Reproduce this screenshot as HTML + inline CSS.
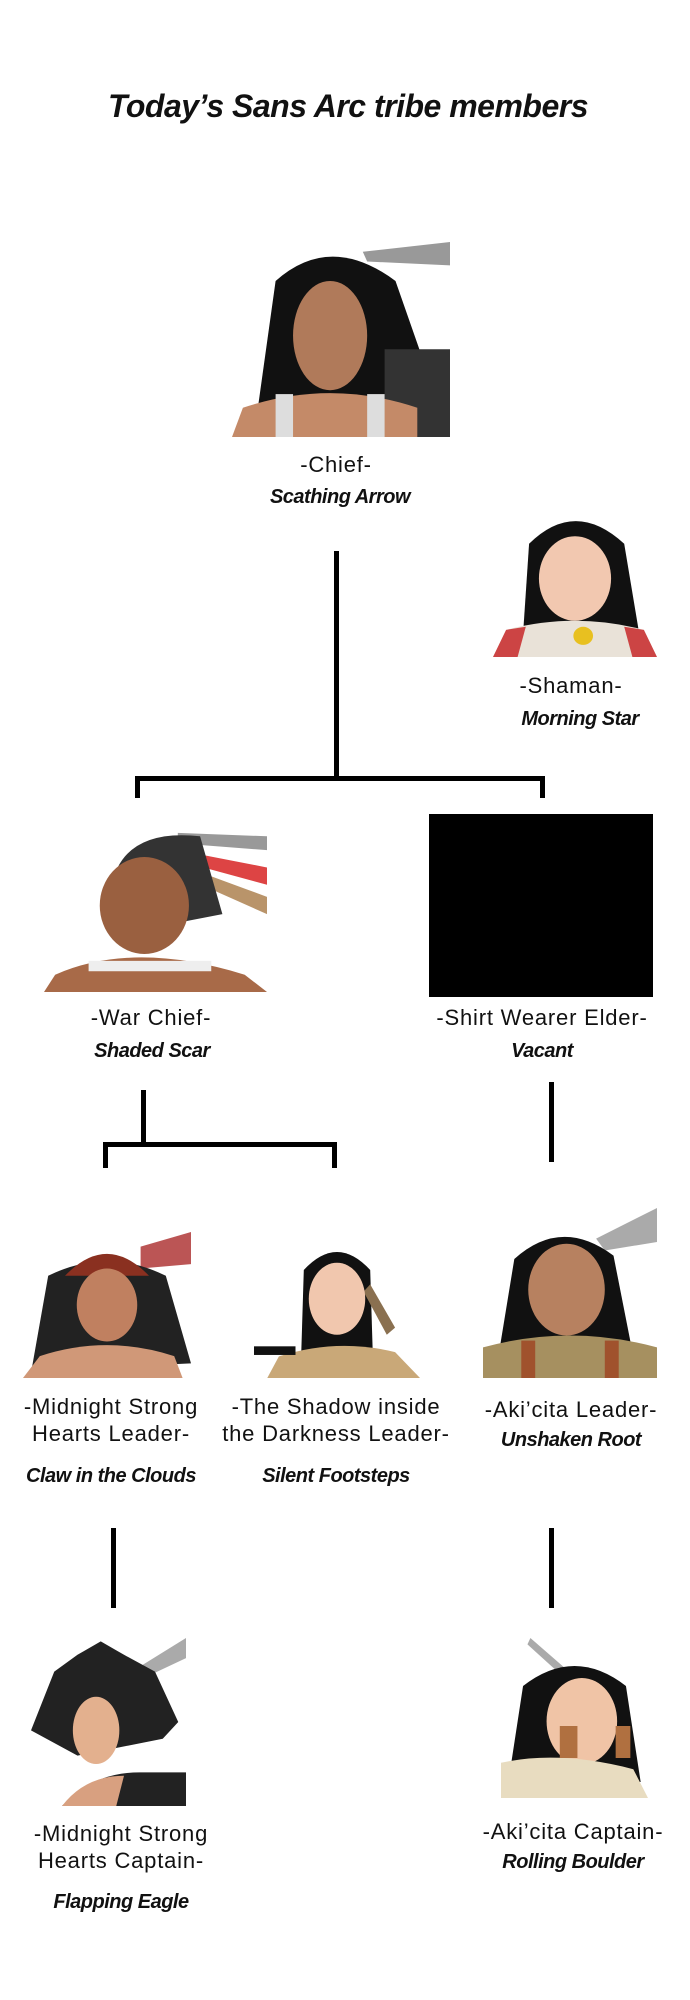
<!DOCTYPE html>
<html><head><meta charset="utf-8"><style>
body{margin:0;background:#fff;}
#c{position:relative;width:690px;height:2000px;background:#fff;overflow:hidden;font-family:"Liberation Sans",sans-serif;}
.t{position:absolute;transform:translateX(-50%);white-space:nowrap;text-align:center;color:#111;}
.r{font-size:22px;letter-spacing:0.8px;line-height:33px;}
.n{font-size:20px;font-style:italic;font-weight:bold;letter-spacing:-0.5px;}
.l{position:absolute;background:#000;}
svg{position:absolute;}
</style></head><body><div id="c">
<div class="t" style="left:348px;top:88px;font-size:32px;font-weight:bold;font-style:italic;letter-spacing:-0.5px;">Today’s Sans Arc tribe members</div>

<svg style="left:232px;top:242px" width="218" height="195" viewBox="0 0 100 100" preserveAspectRatio="none">
<polygon points="60,5 100,0 100,12 62,10" fill="#999"/>
<path d="M10,100 L20,20 Q45,-5 75,20 L100,100 Z" fill="#111"/>
<rect x="70" y="55" width="30" height="45" fill="#333"/>
<ellipse cx="45" cy="48" rx="17" ry="28" fill="#b07a5a"/>
<path d="M0,100 L5,85 Q45,70 85,85 L85,100 Z" fill="#c48a68"/>
<rect x="20" y="78" width="8" height="22" fill="#ddd"/><rect x="62" y="78" width="8" height="22" fill="#ddd"/>
</svg>
<div class="t r" style="left:336px;top:448px">-Chief-</div>
<div class="t n" style="left:340px;top:486px">Scathing Arrow</div>

<svg style="left:493px;top:506px" width="164" height="151" viewBox="0 0 100 100" preserveAspectRatio="none">
<path d="M18,90 L22,25 Q50,-5 80,25 L90,90 Z" fill="#111"/>
<ellipse cx="50" cy="48" rx="22" ry="28" fill="#f2c8b0"/>
<path d="M0,100 L8,82 Q50,70 92,82 L100,100 Z" fill="#e9e2d8"/>
<path d="M0,100 L8,82 L20,80 L15,100Z" fill="#c44"/><path d="M100,100 L92,82 L80,80 L85,100Z" fill="#c44"/>
<circle cx="55" cy="86" r="6" fill="#e8c020"/>
</svg>
<div class="t r" style="left:571px;top:669px">-Shaman-</div>
<div class="t n" style="left:580px;top:708px">Morning Star</div>

<div class="l" style="left:334px;top:551px;width:5px;height:230px"></div>
<div class="l" style="left:135px;top:776px;width:410px;height:5px"></div>
<div class="l" style="left:135px;top:776px;width:5px;height:22px"></div>
<div class="l" style="left:540px;top:776px;width:5px;height:22px"></div>

<svg style="left:44px;top:819px" width="223" height="173" viewBox="0 0 100 100" preserveAspectRatio="none">
<polygon points="60,8 100,10 100,18 60,14" fill="#999"/><polygon points="60,18 100,28 100,38 60,24" fill="#d44"/><polygon points="60,26 100,45 100,55 60,32" fill="#b9946a"/>
<path d="M30,40 Q35,5 70,10 L80,55 L60,60 Z" fill="#333"/>
<ellipse cx="45" cy="50" rx="20" ry="28" fill="#9a6040"/>
<path d="M0,100 L5,90 Q40,70 90,90 L100,100 Z" fill="#a86a48"/>
<rect x="20" y="82" width="55" height="6" fill="#eee"/>
</svg>
<div class="t r" style="left:151px;top:1001px">-War Chief-</div>
<div class="t n" style="left:152px;top:1040px">Shaded Scar</div>

<div class="l" style="left:429px;top:814px;width:224px;height:183px"></div>
<div class="t r" style="left:542px;top:1001px">-Shirt Wearer Elder-</div>
<div class="t n" style="left:542px;top:1040px">Vacant</div>

<div class="l" style="left:141px;top:1090px;width:5px;height:56px"></div>
<div class="l" style="left:103px;top:1142px;width:234px;height:5px"></div>
<div class="l" style="left:103px;top:1142px;width:5px;height:26px"></div>
<div class="l" style="left:332px;top:1142px;width:5px;height:26px"></div>
<div class="l" style="left:549px;top:1082px;width:5px;height:80px"></div>

<svg style="left:23px;top:1232px" width="168" height="146" viewBox="0 0 100 100" preserveAspectRatio="none">
<polygon points="70,10 100,0 100,22 70,25" fill="#b55"/>
<path d="M5,95 L15,30 Q50,10 85,30 L100,90 Z" fill="#222"/>
<path d="M25,30 Q50,0 75,30 Z" fill="#8a3020"/>
<ellipse cx="50" cy="50" rx="18" ry="25" fill="#c08060"/>
<path d="M0,100 L10,85 Q50,70 90,85 L95,100 Z" fill="#d09878"/>
</svg>
<div class="t r" style="left:111px;top:1393px;line-height:27px">-Midnight Strong<br>Hearts Leader-</div>
<div class="t n" style="left:111px;top:1465px">Claw in the Clouds</div>

<svg style="left:254px;top:1234px" width="166" height="144" viewBox="0 0 100 100" preserveAspectRatio="none">
<path d="M28,100 L30,25 Q50,0 70,25 L72,100 Z" fill="#111"/>
<polygon points="70,35 85,65 80,70 66,40" fill="#8a7050"/>
<ellipse cx="50" cy="45" rx="17" ry="25" fill="#f1c7ae"/>
<path d="M8,100 L15,85 Q50,72 85,82 L100,100 Z" fill="#c9a878"/>
<rect x="0" y="78" width="25" height="6" fill="#111"/>
</svg>
<div class="t r" style="left:336px;top:1393px;line-height:27px">-The Shadow inside<br>the Darkness Leader-</div>
<div class="t n" style="left:336px;top:1465px">Silent Footsteps</div>

<svg style="left:483px;top:1208px" width="174" height="170" viewBox="0 0 100 100" preserveAspectRatio="none">
<polygon points="65,18 100,0 100,20 70,25" fill="#aaa"/>
<path d="M10,80 L18,30 Q45,5 75,28 L85,80 Z" fill="#111"/>
<ellipse cx="48" cy="48" rx="22" ry="27" fill="#b78160"/>
<path d="M0,100 L0,82 Q50,68 100,82 L100,100 Z" fill="#a69060"/>
<rect x="22" y="78" width="8" height="22" fill="#a0522d"/><rect x="70" y="78" width="8" height="22" fill="#a0522d"/>
</svg>
<div class="t r" style="left:571px;top:1393px">-Aki’cita Leader-</div>
<div class="t n" style="left:571px;top:1429px">Unshaken Root</div>

<div class="l" style="left:111px;top:1528px;width:5px;height:80px"></div>
<div class="l" style="left:549px;top:1528px;width:5px;height:80px"></div>

<svg style="left:31px;top:1638px" width="155" height="168" viewBox="0 0 100 100" preserveAspectRatio="none">
<polygon points="65,20 100,0 100,12 70,25" fill="#aaa"/>
<path d="M0,55 L15,20 L30,10 L45,2 L60,10 L80,20 L95,50 L85,60 L30,70 Z" fill="#222"/>
<ellipse cx="42" cy="55" rx="15" ry="20" fill="#e3b08e"/>
<path d="M20,100 Q40,80 70,80 L100,80 L100,100 Z" fill="#222"/>
<path d="M20,100 Q35,82 60,82 L55,100 Z" fill="#d8a080"/>
</svg>
<div class="t r" style="left:121px;top:1820px;line-height:27px">-Midnight Strong<br>Hearts Captain-</div>
<div class="t n" style="left:121px;top:1891px">Flapping Eagle</div>

<svg style="left:501px;top:1638px" width="147" height="160" viewBox="0 0 100 100" preserveAspectRatio="none">
<polygon points="20,0 45,20 42,24 18,4" fill="#aaa"/>
<path d="M5,90 L15,30 Q50,5 85,30 L95,90 Z" fill="#111"/>
<ellipse cx="55" cy="52" rx="24" ry="27" fill="#f0c4a6"/>
<path d="M0,100 L0,78 Q40,70 90,82 L100,100 Z" fill="#e8dcc0"/>
<rect x="40" y="55" width="12" height="20" fill="#b07040"/><rect x="78" y="55" width="10" height="20" fill="#b07040"/>
</svg>
<div class="t r" style="left:573px;top:1815px">-Aki’cita Captain-</div>
<div class="t n" style="left:573px;top:1851px">Rolling Boulder</div>
</div></body></html>
